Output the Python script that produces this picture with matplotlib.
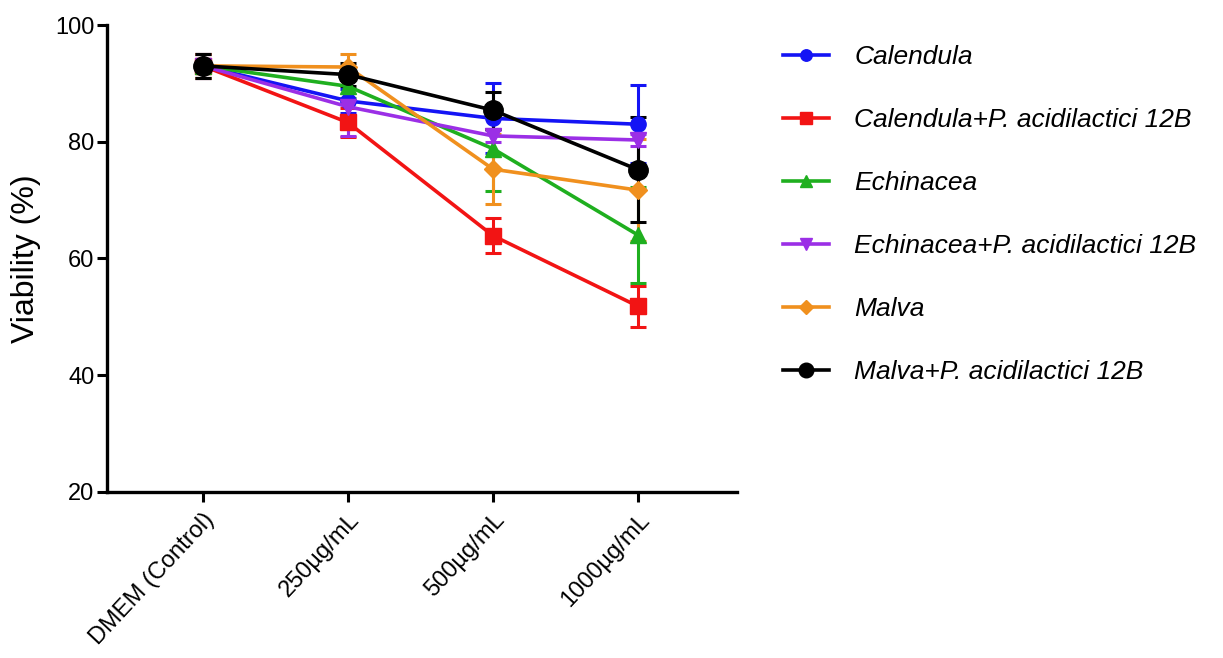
import matplotlib
matplotlib.use("Agg")
import matplotlib.pyplot as plt
from matplotlib.lines import Line2D

plt.rcParams['font.family'] = ['Liberation Sans', 'DejaVu Sans']

categories = ["DMEM (Control)", "250µg/mL", "500µg/mL", "1000µg/mL"]
series_names = ["Calendula", "Calendula+P. acidilactici 12B", "Echinacea",
                "Echinacea+P. acidilactici 12B", "Malva", "Malva+P. acidilactici 12B"]
calendula = [93.0, 87.0, 84.0, 83.0]
calendula_err = [2.0, 2.0, 6.0, 6.7]
calendula_p = [93.0, 83.3, 63.9, 51.8]
calendula_p_err = [2.0, 2.5, 3.0, 3.5]
echinacea = [93.0, 89.5, 78.8, 64.0]
echinacea_err = [2.0, 2.0, 7.2, 8.2]
echinacea_p = [93.0, 86.0, 81.0, 80.3]
echinacea_p_err = [2.0, 5.0, 1.0, 1.0]
malva = [93.0, 92.8, 75.3, 71.7]
malva_err = [2.0, 2.3, 6.0, 8.7]
malva_p = [93.0, 91.5, 85.4, 75.2]
malva_p_err = [2.0, 2.0, 3.2, 9.0]
y_ticks = [20, 40, 60, 80, 100]

values = [calendula, calendula_p, echinacea, echinacea_p, malva, malva_p]
errors = [calendula_err, calendula_p_err, echinacea_err, echinacea_p_err, malva_err, malva_p_err]
colors = ["#1414F5", "#F21414", "#1FAF1F", "#9B2FE6", "#F0901E", "#000000"]
markers = ["o", "s", "^", "v", "D", "o"]
msizes = [11, 12, 11, 11, 9, 14]

fig = plt.figure(figsize=(12.23, 6.58), dpi=100)
ax = fig.add_axes([0.0875, 0.2523, 0.515, 0.7097])

x = list(range(len(categories)))
handles = []
for vals, errs, c, m, ms, name in zip(values, errors, colors, markers, msizes, series_names):
    ax.errorbar(x, vals, yerr=errs, color=c, marker=m, markersize=ms,
                linewidth=2.6, elinewidth=2.2, capsize=6, capthick=2.2)
    handles.append(Line2D([], [], color=c, marker=m, markersize=ms * 0.75,
                          linewidth=2.6, label=name))

ax.set_xlim(-0.66, 3.68)
ax.set_ylim(20, 100)
ax.set_yticks(y_ticks)
ax.set_xticks(x)
ax.set_xticklabels(categories, rotation=47, ha='right', rotation_mode='anchor', fontsize=17)
ax.tick_params(axis='y', labelsize=17, length=7, width=2.2, direction='out', pad=2)
ax.tick_params(axis='x', length=7, width=2.2, direction='out', pad=5)
for s in ['top', 'right']:
    ax.spines[s].set_visible(False)
for s in ['left', 'bottom']:
    ax.spines[s].set_linewidth(2.4)
ax.set_ylabel("Viability (%)", fontsize=23, labelpad=10)

leg = fig.legend(handles=handles, loc='upper left', bbox_to_anchor=(0.621, 0.968),
                 frameon=False, prop={'style': 'italic', 'size': 19},
                 labelspacing=1.48, handlelength=1.75, handletextpad=0.95)

fig.savefig("out.png", dpi=100)
